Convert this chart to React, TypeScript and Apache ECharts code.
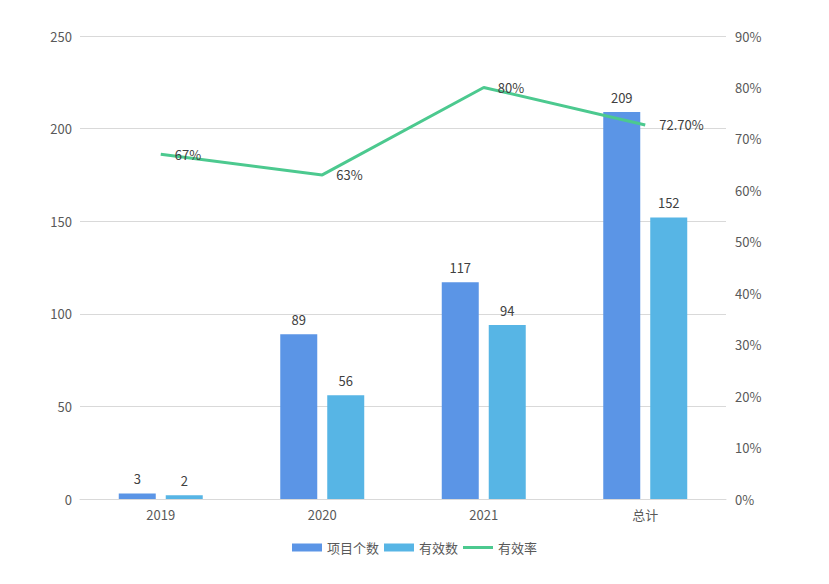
import React, { useEffect, useRef } from "react";
import * as echarts from "echarts";

const categories = ["2019", "2020", "2021", "总计"];
const projectCounts = [3, 89, 117, 209];
const validCounts = [2, 56, 94, 152];
const validRates = [0.67, 0.63, 0.8, 0.727];
const rateLabels = ["67%", "63%", "80%", "72.70%"];
const leftTicks = { min: 0, max: 250, interval: 50 };
const rightTicks = { min: 0, max: 0.9, interval: 0.1 };

export default function App() {
  const ref = useRef<HTMLDivElement>(null);
  useEffect(() => {
    const chart = echarts.init(ref.current!, null, { renderer: "svg" });
    const font = "'Noto Sans CJK SC', 'Noto Sans', sans-serif";
    const fs = 13;
    chart.setOption({
      animation: false,
      textStyle: { fontFamily: font },
      grid: { left: 72, right: 95, top: 28, bottom: 77 },
      legend: {
        bottom: 17,
        left: "center",
        itemGap: 5,
        itemWidth: 30,
        itemHeight: 8,
        textStyle: { color: "#595959", fontSize: fs, fontFamily: font },
        data: [
          { name: "项目个数", icon: "rect" },
          { name: "有效数", icon: "rect" },
          { name: "有效率", icon: "path://M0,0 L30,0 L30,3 L0,3 Z" },
        ],
      },
      xAxis: {
        type: "category",
        data: categories,
        axisTick: { show: false },
        axisLine: { lineStyle: { color: "#d9d9d9" } },
        axisLabel: { color: "#595959", fontSize: fs, margin: 9 },
      },
      yAxis: [
        {
          type: "value",
          min: leftTicks.min,
          max: leftTicks.max,
          interval: leftTicks.interval,
          axisLine: { show: false },
          axisTick: { show: false },
          splitLine: { lineStyle: { color: "#d9d9d9" } },
          axisLabel: { color: "#595959", fontSize: fs, margin: 8 },
        },
        {
          type: "value",
          min: rightTicks.min,
          max: rightTicks.max,
          interval: rightTicks.interval,
          axisLine: { show: false },
          axisTick: { show: false },
          splitLine: { show: false },
          axisLabel: {
            color: "#595959",
            fontSize: fs,
            margin: 9,
            formatter: (v: number) => Math.round(v * 100) + "%",
          },
        },
      ],
      series: [
        {
          name: "项目个数",
          type: "bar",
          data: projectCounts,
          barWidth: 37,
          barGap: "27%",
          itemStyle: { color: "#5B95E6" },
          label: { show: true, position: "top", color: "#404040", fontSize: fs, distance: 8 },
        },
        {
          name: "有效数",
          type: "bar",
          data: validCounts,
          barWidth: 37,
          barGap: "27%",
          itemStyle: { color: "#57B5E5" },
          label: { show: true, position: "top", color: "#404040", fontSize: fs, distance: 8 },
        },
        {
          name: "有效率",
          type: "line",
          yAxisIndex: 1,
          data: validRates,
          symbol: "circle",
          symbolSize: 0,
          showSymbol: true,
          lineStyle: { color: "#4CC98F", width: 3 },
          itemStyle: { color: "#4CC98F" },
          label: {
            show: true,
            position: "right",
            distance: 14,
            color: "#404040",
            fontSize: fs,
            formatter: (p: any) => rateLabels[p.dataIndex],
          },
        },
      ],
    });
    return () => chart.dispose();
  }, []);
  return <div ref={ref} style={{ width: 813, height: 568 }} />;
}
